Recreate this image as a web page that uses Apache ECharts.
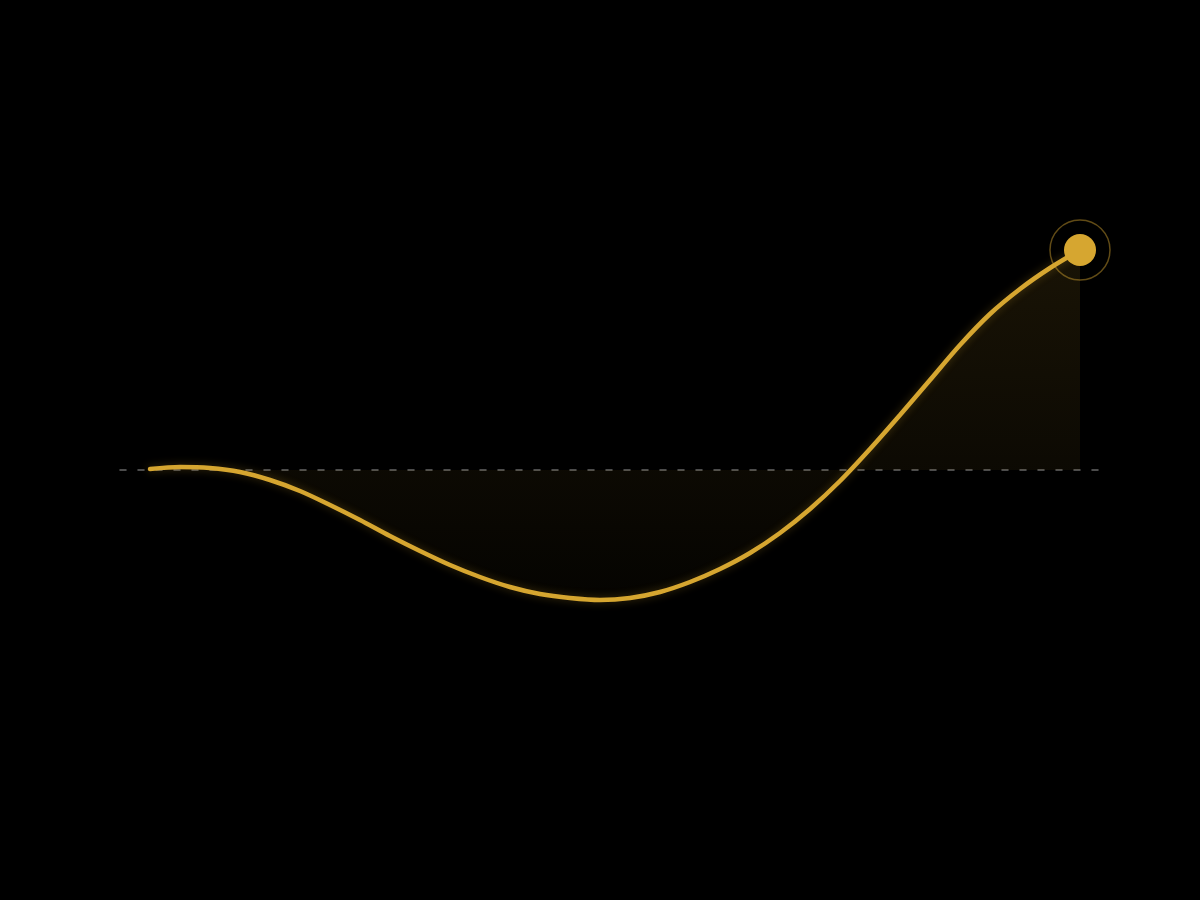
<html>
<head>
    <meta charset="UTF-8">
    <title>Curve</title>
    <script src="https://cdn.jsdelivr.net/npm/echarts@6/dist/echarts.min.js"></script>
    <style>
        html, body { margin: 0; padding: 0; background: #000; }
        #container { width: 1200px; height: 900px; }
    </style>
</head>
<body>
<div id="container"></div>
<script>
    // data (x = step index, y = value above/below the zero line)
    var steps = [0, 1, 2, 3, 4, 5, 6, 7, 8, 9, 10, 11, 12, 13, 14, 15,
                 16, 17, 18, 19, 20, 21, 22, 23, 24, 25, 26, 27, 28, 29, 30, 31];
    var values = [0.05, 0.15, 0.10, -0.10, -0.50, -1.05, -1.75, -2.50,
                  -3.30, -4.05, -4.75, -5.35, -5.85, -6.20, -6.40, -6.50,
                  -6.40, -6.10, -5.60, -4.95, -4.15, -3.15, -1.95, -0.55,
                  1.05, 2.75, 4.50, 6.25, 7.80, 9.05, 10.10, 11.00];

    var gold = '#D6A630';

    var lineData = [];
    for (var i = 0; i < steps.length; i++) {
        lineData.push([steps[i], values[i]]);
    }
    var last = [lineData[lineData.length - 1]];

    var mycharts = echarts.init(document.getElementById('container'));

    var option = {
        backgroundColor: '#000',
        animation: false,
        grid: { left: 120, right: 90, top: 150, bottom: 150 },
        xAxis: {
            type: 'value',
            // one step of padding each side of the data
            min: -1,
            max: 32,
            axisLine: {
                show: true,
                onZero: true,
                lineStyle: { color: '#666', width: 1.5, type: [6, 12] }
            },
            axisTick: { show: false },
            axisLabel: { show: false },
            splitLine: { show: false }
        },
        yAxis: {
            type: 'value',
            min: -14,
            max: 16,
            show: false,
            splitLine: { show: false }
        },
        series: [
            {
                type: 'line',
                data: lineData,
                smooth: 0.3,
                showSymbol: false,
                lineStyle: {
                    color: gold,
                    width: 4.5,
                    cap: 'round',
                    shadowColor: 'rgba(214,166,48,0.3)',
                    shadowBlur: 8
                },
                areaStyle: {
                    origin: 0,
                    color: new echarts.graphic.LinearGradient(0, 0, 0, 1, [
                        { offset: 0, color: 'rgba(214,166,48,0.17)' },
                        { offset: 1, color: 'rgba(214,166,48,0.03)' }
                    ])
                },
                z: 2
            },
            {
                // halo ring around the last point
                type: 'scatter',
                data: last,
                symbolSize: 60,
                itemStyle: {
                    color: 'rgba(0,0,0,0)',
                    borderColor: 'rgba(214,166,48,0.45)',
                    borderWidth: 1.5,
                    opacity: 1
                },
                silent: true,
                z: 3
            },
            {
                type: 'scatter',
                data: last,
                symbolSize: 32,
                itemStyle: { color: gold, opacity: 1 },
                silent: true,
                z: 4
            }
        ]
    };

    mycharts.setOption(option);
</script>
</body>
</html>
